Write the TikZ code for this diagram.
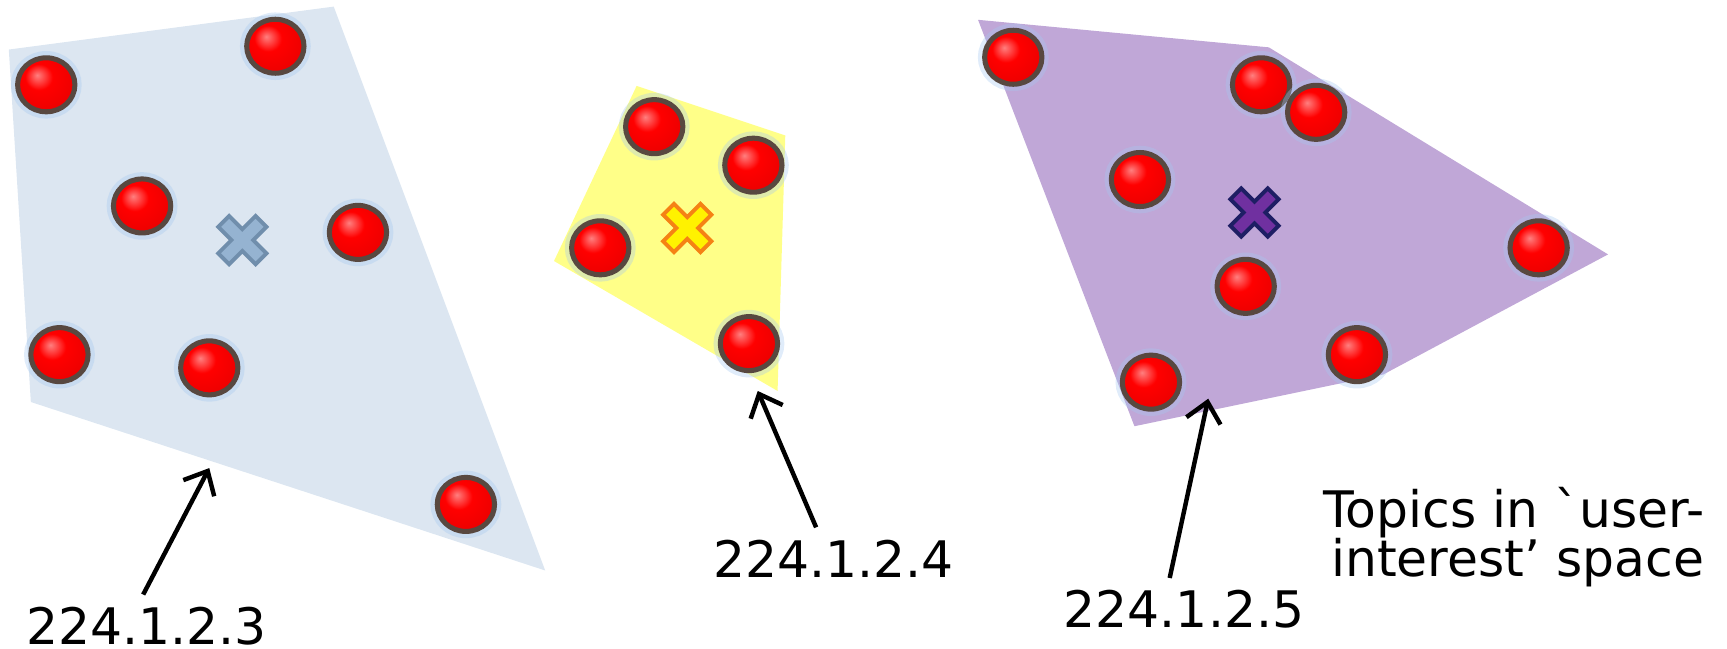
\documentclass[tikz,border=0pt]{standalone}
\usepackage{fontspec}
\setmainfont{DejaVu Sans}
\usetikzlibrary{calc,arrows.meta,shapes.geometric}
\definecolor{groupblue}{RGB}{220,230,241}
\definecolor{groupyellow}{RGB}{255,255,136}
\definecolor{grouppurple}{RGB}{192,167,215}
\definecolor{ballring}{RGB}{88,72,64}
\definecolor{ballglow}{RGB}{165,200,240}
\definecolor{crossblue}{RGB}{149,179,209}
\definecolor{crossblueline}{RGB}{112,142,172}
\definecolor{crossorange}{RGB}{245,130,20}
\definecolor{crosspurple}{RGB}{112,48,160}
\definecolor{crossnavy}{RGB}{30,30,100}
\pgfdeclareradialshading{topicshade}{\pgfpoint{-8bp}{9bp}}{%
  color(0bp)=(red!50!white); color(12bp)=(red); color(32bp)=(red!92!black);
  color(44bp)=(red!62!black); color(60bp)=(red!45!black)}
\tikzset{
  topic/.style={ellipse, inner sep=0pt, minimum width=0.52cm, minimum height=0.49cm,
    shading=topicshade, draw=ballring, line width=1.3pt,
    preaction={draw=ballglow, line width=3.5pt, opacity=0.35}},
  pointer/.style={-{Straight Barb[length=5pt,width=9pt]}, line width=1.15pt},
  ipaddr/.style={font=\fontsize{13}{15}\selectfont, anchor=base, inner sep=3pt},
  centroid/.pic={
    \path[pic actions, rotate=45] (7,7) -- (7,24) -- (-7,24) -- (-7,7) -- (-24,7)
      -- (-24,-7) -- (-7,-7) -- (-7,-24) -- (7,-24) -- (7,-7) -- (24,-7) -- (24,7) -- cycle;
  }
}
\begin{document}
\begin{tikzpicture}[x=0.01cm, y=-0.01cm]
  \useasboundingbox (0,0) rectangle (1568,589);
  % Groups of topics
  \fill[groupblue] (8,45) -- (303,6) -- (495,518) -- (28,365) -- cycle;
  \fill[groupyellow] (578,78) -- (713,123) -- (706,355) -- (503,237) -- cycle;
  \fill[grouppurple] (888,18) -- (1152,43) -- (1460,231) -- (1256,340) -- (1030,387) -- cycle;
  % Topics
  \foreach \p [count=\i] in {(42,77),(250,42),(129,187),(325,211),(54,322),(190,334),(423,458)}
    \node[topic] (a\i) at \p {};
  \foreach \p [count=\i] in {(594,115),(684,150),(545,225),(680,312)}
    \node[topic] (b\i) at \p {};
  \foreach \p [count=\i] in {(920,52),(1145,77),(1195,102),(1035,163),(1131,260),(1397,225),(1045,347),(1232,322)}
    \node[topic] (c\i) at \p {};
  % Group centres
  \pic[fill=crossblue, draw=crossblueline, line width=1pt] at (220,218) {centroid};
  \pic[fill=yellow, draw=crossorange, line width=1pt] at (624,207) {centroid};
  \pic[fill=crosspurple, draw=crossnavy, line width=1pt] at (1139,193) {centroid};
  % Multicast addresses
  \node[ipaddr] (ip3) at (133,585) {224.1.2.3};
  \node[ipaddr] (ip4) at (757,524) {224.1.2.4};
  \node[ipaddr] (ip5) at (1075,570) {224.1.2.5};
  \coordinate (tip3) at (190,425);
  \coordinate (tip4) at (688,355);
  \coordinate (tip5) at (1097,362);
  \draw[pointer] ($(ip3.north)+(-3,0)$) -- (tip3);
  \draw[pointer] ($(ip4.north)+(-16,0)$) -- (tip4);
  \draw[pointer] ($(ip5.north)+(-13,0)$) -- (tip5);
  \node[font=\fontsize{13}{12.6}\selectfont, align=right, anchor=base east, inner sep=0pt]
    (space) at (1548,523) {Topics in \textasciigrave user-\\interest’ space};
\end{tikzpicture}
\end{document}
